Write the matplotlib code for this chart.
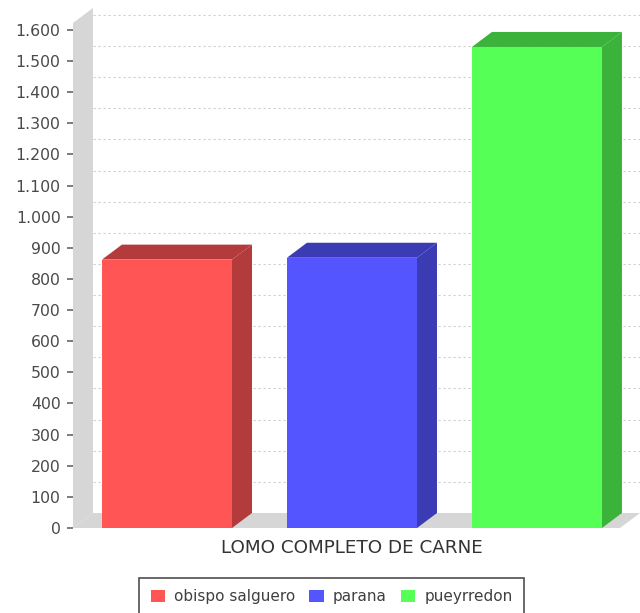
import matplotlib
matplotlib.use("Agg")
import matplotlib.pyplot as plt
from matplotlib.patches import Polygon, Patch
from matplotlib.ticker import FuncFormatter, MultipleLocator

plt.rcParams['font.family'] = ['DejaVu Sans']

# Data
category = "LOMO COMPLETO DE CARNE"
series = ["obispo salguero", "parana", "pueyrredon"]
values = [862, 868, 1545]
front_colors = ["#ff5555", "#5555ff", "#55ff55"]
shade_colors = ["#b33b3b", "#3b3bb3", "#3bb33b"]
y_max = 1622
y_step = 100

W, H = 640, 613
fig = plt.figure(figsize=(W / 100, H / 100), dpi=100)
fig.patch.set_facecolor("white")

# front plane of the 3D plot
ax = fig.add_axes([73 / W, (H - 528) / H, (620 - 73) / W, (528 - 23) / H])
x_lo, x_hi = -0.508, 2.449
ax.set_xlim(x_lo, x_hi)
ax.set_ylim(0, y_max)
for s in ax.spines.values():
    s.set_visible(False)
ax.set_facecolor("none")

# depth offset of the 3D effect, expressed in data units
depth_px_x, depth_px_y = 20, 15
ddx = depth_px_x * (x_hi - x_lo) / ax.bbox.width
ddy = depth_px_y * y_max / ax.bbox.height

wall_color = "#d6d6d6"
# left wall
ax.add_patch(Polygon([(x_lo, 0), (x_lo, y_max), (x_lo + ddx, y_max + ddy), (x_lo + ddx, ddy)],
                     closed=True, facecolor=wall_color, edgecolor="none", clip_on=False, zorder=1))
# floor
ax.add_patch(Polygon([(x_lo, 0), (x_hi, 0), (x_hi + ddx, ddy), (x_lo + ddx, ddy)],
                     closed=True, facecolor=wall_color, edgecolor="none", clip_on=False, zorder=1))

# gridlines on the back wall
for v in range(y_step, 1601, y_step):
    ax.plot([x_lo + ddx, x_hi + ddx], [v + ddy, v + ddy], color="#cfcfcf", lw=0.8,
            ls=(0, (2, 2.5)), clip_on=False, zorder=0.5)

# bars
bar_w = 0.703
xs = list(range(len(values)))
ax.bar(xs, values, width=bar_w, color=front_colors, edgecolor="none", zorder=3)
for x, v, c in zip(xs, values, shade_colors):
    l, r = x - bar_w / 2, x + bar_w / 2
    ax.add_patch(Polygon([(r, 0), (r, v), (r + ddx, v + ddy), (r + ddx, ddy)],
                         closed=True, facecolor=c, edgecolor="none", clip_on=False, zorder=2))
    ax.add_patch(Polygon([(l, v), (r, v), (r + ddx, v + ddy), (l + ddx, v + ddy)],
                         closed=True, facecolor=c, edgecolor="none", clip_on=False, zorder=2))

# axes ticks
ax.yaxis.set_major_locator(MultipleLocator(y_step))
ax.yaxis.set_major_formatter(FuncFormatter(lambda v, p: f"{int(v):,}".replace(",", ".")))
ax.set_ylim(0, y_max)
ax.tick_params(axis="y", length=4, width=1.2, color="#666666", pad=5,
               labelsize=11.3, labelcolor="#4a4a4a")
ax.set_xticks([1])
ax.set_xticklabels([category])
ax.tick_params(axis="x", length=0, pad=8, labelsize=13.2, labelcolor="#333333")

# legend
handles = [Patch(facecolor=c, edgecolor="none") for c in front_colors]
leg = fig.legend(handles, series, loc="upper center", ncol=3,
                 bbox_to_anchor=(331.5 / W, (H - 578) / H),
                 fontsize=11, frameon=True, fancybox=False, edgecolor="#222222",
                 handlelength=0.95, handleheight=0.85, handletextpad=0.6,
                 columnspacing=0.9, borderpad=0.75, borderaxespad=0)
leg.get_frame().set_linewidth(1.2)
for t in leg.get_texts():
    t.set_color("#404040")

fig.savefig("out.png", dpi=100)
